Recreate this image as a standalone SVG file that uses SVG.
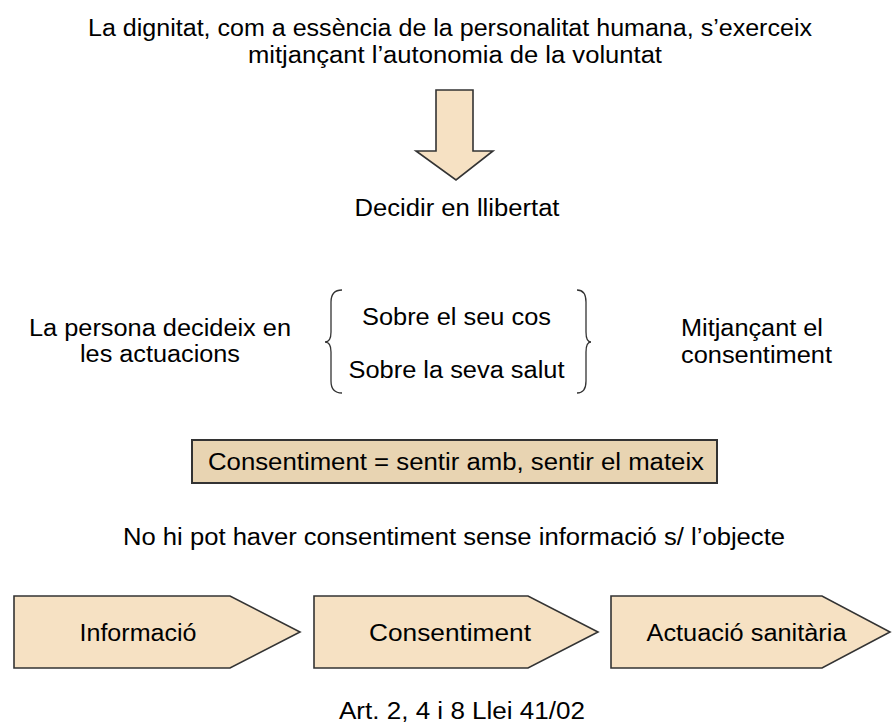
<svg xmlns="http://www.w3.org/2000/svg" width="893" height="725" viewBox="0 0 893 725">
<style>
text{font-family:"Liberation Sans",Arial,sans-serif;font-size:23.5px;fill:#000}
.m{text-anchor:middle}
.shape{fill:#f6e1c3;stroke:#333;stroke-width:1.6;stroke-linejoin:miter}
.brace{fill:none;stroke:#333;stroke-width:1.3}
</style>
<rect width="893" height="725" fill="#fff"/>
<g id="title">
<text x="450" y="36" class="m" textLength="724" lengthAdjust="spacingAndGlyphs">La dignitat, com a essència de la personalitat humana, s’exerceix</text>
<text x="455" y="63" class="m" textLength="414" lengthAdjust="spacingAndGlyphs">mitjançant l’autonomia de la voluntat</text>
</g>
<g id="connectors">
<path class="shape" d="M436,90 H473 V151 H493 L456,180 L416,151 H436 Z"/>
</g>
<g id="decidir">
<text x="457" y="216" class="m" textLength="205" lengthAdjust="spacingAndGlyphs">Decidir en llibertat</text>
</g>
<g id="persona">
<text x="160" y="336" class="m" textLength="262" lengthAdjust="spacingAndGlyphs">La persona decideix en</text>
<text x="160" y="362" class="m" textLength="160" lengthAdjust="spacingAndGlyphs">les actuacions</text>
</g>
<g id="sobre">
<path class="brace" d="M342,290 Q331,290 331,302 V332 Q331,342 325,342 Q331,342 331,352 V381 Q331,393 342,393"/>
<text x="456.5" y="325" class="m" textLength="189" lengthAdjust="spacingAndGlyphs">Sobre el seu cos</text>
<text x="456.5" y="378" class="m" textLength="216" lengthAdjust="spacingAndGlyphs">Sobre la seva salut</text>
<path class="brace" d="M577,290 Q586,290 586,302 V332 Q586,342 591,342 Q586,342 586,352 V381 Q586,393 577,393"/>
</g>
<g id="mitjancant">
<text x="681" y="336" textLength="142" lengthAdjust="spacingAndGlyphs">Mitjançant el</text>
<text x="681" y="363" textLength="151" lengthAdjust="spacingAndGlyphs">consentiment</text>
</g>
<g id="definicio">
<rect x="192" y="440" width="525" height="43" fill="#e8d4b2" stroke="#333" stroke-width="2"/>
<text x="456" y="470" class="m" textLength="496" lengthAdjust="spacingAndGlyphs">Consentiment = sentir amb, sentir el mateix</text>
</g>
<g id="nota">
<text x="123" y="545" textLength="662" lengthAdjust="spacingAndGlyphs">No hi pot haver consentiment sense informació s/ l’objecte</text>
</g>
<g id="informacio">
<path class="shape" d="M14,596 H230 L300,632 L230,668 H14 Z"/>
<text x="138" y="641" class="m" textLength="117" lengthAdjust="spacingAndGlyphs">Informació</text>
</g>
<g id="consentiment">
<path class="shape" d="M314,596 H528 L598,632 L528,668 H314 Z"/>
<text x="450" y="641" class="m" textLength="162" lengthAdjust="spacingAndGlyphs">Consentiment</text>
</g>
<g id="actuacio">
<path class="shape" d="M611,596 H822 L890,632 L822,668 H611 Z"/>
<text x="746.5" y="641" class="m" textLength="200" lengthAdjust="spacingAndGlyphs">Actuació sanitària</text>
</g>
<g id="article">
<text x="462" y="719" class="m" textLength="246" lengthAdjust="spacingAndGlyphs">Art. 2, 4 i 8 Llei 41/02</text>
</g>
</svg>
